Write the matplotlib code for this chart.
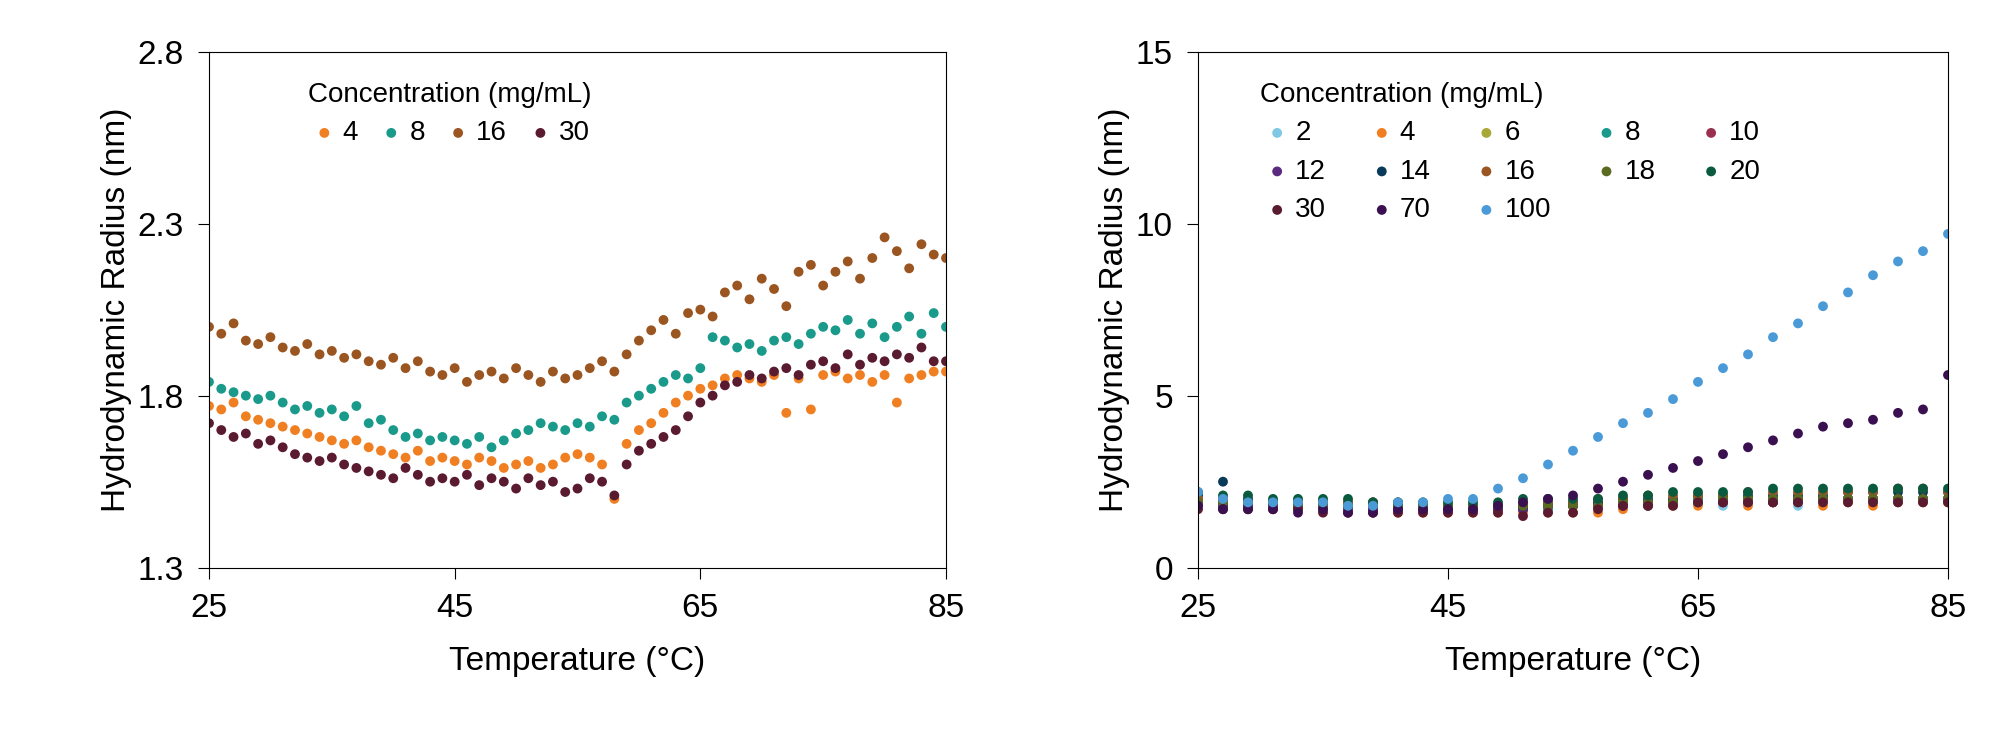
import numpy as np
import matplotlib.pyplot as plt

plt.rcParams['font.family'] = ['Arial', 'Liberation Sans', 'DejaVu Sans']

# ---------------- left panel data ----------------
temp_left = list(range(25, 86))
left_labels = ['4', '8', '16', '30']
left_colors = ['#F07F22', '#1A9A8A', '#9A5520', '#5A1A30']
r_4 = [1.77,1.76,1.78,1.74,1.73,1.72,1.71,1.70,1.69,1.68,
       1.67,1.66,1.67,1.65,1.64,1.63,1.62,1.64,1.61,1.62,
       1.61,1.60,1.62,1.61,1.59,1.60,1.61,1.59,1.60,1.62,
       1.63,1.62,1.60,1.50,1.66,1.70,1.72,1.75,1.78,1.80,
       1.82,1.83,1.85,1.86,1.85,1.84,1.86,1.75,1.85,1.76,
       1.86,1.87,1.85,1.86,1.84,1.86,1.78,1.85,1.86,1.87,1.87]
r_8 = [1.84,1.82,1.81,1.80,1.79,1.80,1.78,1.76,1.77,1.75,
       1.76,1.74,1.77,1.72,1.73,1.70,1.68,1.69,1.67,1.68,
       1.67,1.66,1.68,1.65,1.67,1.69,1.70,1.72,1.71,1.70,
       1.72,1.71,1.74,1.73,1.78,1.80,1.82,1.84,1.86,1.85,
       1.88,1.97,1.96,1.94,1.95,1.93,1.96,1.97,1.95,1.98,
       2.00,1.99,2.02,1.98,2.01,1.97,2.00,2.03,1.98,2.04,2.00]
r_16 = [2.00,1.98,2.01,1.96,1.95,1.97,1.94,1.93,1.95,1.92,
        1.93,1.91,1.92,1.90,1.89,1.91,1.88,1.90,1.87,1.86,
        1.88,1.84,1.86,1.87,1.85,1.88,1.86,1.84,1.87,1.85,
        1.86,1.88,1.90,1.87,1.92,1.96,1.99,2.02,1.98,2.04,
        2.05,2.03,2.10,2.12,2.08,2.14,2.11,2.06,2.16,2.18,
        2.12,2.16,2.19,2.14,2.20,2.26,2.22,2.17,2.24,2.21,2.20]
r_30 = [1.72,1.70,1.68,1.69,1.66,1.67,1.65,1.63,1.62,1.61,
        1.62,1.60,1.59,1.58,1.57,1.56,1.59,1.57,1.55,1.56,
        1.55,1.57,1.54,1.56,1.55,1.53,1.56,1.54,1.55,1.52,
        1.53,1.56,1.55,1.51,1.60,1.64,1.66,1.68,1.70,1.74,
        1.78,1.80,1.83,1.84,1.86,1.85,1.87,1.88,1.86,1.89,
        1.90,1.88,1.92,1.89,1.91,1.90,1.92,1.91,1.94,1.90,1.90]
left_series = [r_4, r_8, r_16, r_30]

# ---------------- right panel data ----------------
temp_right = list(range(25, 86, 2))
right_labels = ['2', '4', '6', '8', '10', '12', '14', '16', '18', '20', '30', '70', '100']
right_colors = ['#7EC8E3', '#F07F22', '#A8A838', '#1A9A8A', '#9A3050', '#5A2A80',
                '#0A3A5A', '#9A5520', '#5A6A20', '#0A5A40', '#5A1A30', '#3A1050', '#4A9AD8']
s2 = [1.9,1.8,1.9,1.8,1.8,1.7,1.8,1.7,1.7,1.7,1.7,1.7,1.8,1.7,1.7,1.8,1.8,1.8,1.8,1.8,1.9,1.8,1.9,1.9,1.8,1.9,1.9,1.9,1.9,1.9,1.9]
s4 = [1.8,1.8,1.7,1.7,1.7,1.7,1.6,1.6,1.6,1.6,1.6,1.6,1.6,1.6,1.6,1.6,1.6,1.7,1.8,1.8,1.8,1.9,1.8,1.9,1.9,1.8,1.9,1.8,1.9,1.9,1.9]
s6 = [2.0,1.9,1.9,1.9,1.8,1.8,1.8,1.8,1.8,1.8,1.7,1.7,1.8,1.8,1.8,1.8,1.9,1.9,1.9,1.9,2.0,2.0,2.0,2.0,2.0,2.0,2.0,2.0,2.0,2.0,1.9]
s8 = [1.8,1.8,1.8,1.8,1.7,1.7,1.7,1.7,1.7,1.7,1.7,1.7,1.7,1.7,1.7,1.8,1.8,1.9,1.9,1.9,2.0,2.0,2.0,2.0,2.0,2.0,2.0,2.0,2.0,2.0,2.0]
s10 = [1.9,1.9,1.8,1.8,1.8,1.8,1.8,1.7,1.7,1.7,1.7,1.7,1.7,1.7,1.8,1.8,1.8,1.8,1.9,1.9,1.9,1.9,1.9,1.9,2.0,2.0,2.0,2.0,2.0,2.0,2.0]
s12 = [1.9,1.8,1.8,1.8,1.8,1.8,1.7,1.7,1.7,1.7,1.7,1.7,1.7,1.7,1.8,1.8,1.8,1.8,1.8,1.9,1.9,1.9,1.9,1.9,1.9,2.0,2.0,2.0,2.0,2.0,2.0]
s14 = [2.1,2.5,2.0,1.9,1.9,1.9,1.9,1.9,1.8,1.8,1.8,1.8,1.8,1.8,1.9,1.9,1.9,2.0,2.0,2.0,2.1,2.1,2.1,2.1,2.1,2.1,2.2,2.2,2.2,2.2,2.2]
s16 = [2.0,2.0,1.9,1.9,1.9,1.9,1.9,1.9,1.9,1.8,1.8,1.8,1.8,1.9,1.9,1.9,2.0,2.0,2.1,2.1,2.1,2.1,2.2,2.2,2.2,2.2,2.2,2.2,2.3,2.3,2.2]
s18 = [1.9,1.9,1.9,1.9,1.8,1.8,1.8,1.8,1.8,1.8,1.8,1.8,1.8,1.8,1.8,1.8,1.8,1.9,1.9,1.9,1.9,2.0,2.0,2.0,2.0,2.0,2.0,2.0,2.0,2.0,2.0]
s20 = [2.2,2.1,2.1,2.0,2.0,2.0,2.0,1.9,1.9,1.9,1.9,1.9,1.9,2.0,2.0,2.0,2.0,2.1,2.1,2.2,2.2,2.2,2.2,2.3,2.3,2.3,2.3,2.3,2.3,2.3,2.3]
s30 = [1.7,1.7,1.7,1.7,1.7,1.6,1.6,1.6,1.6,1.6,1.6,1.6,1.6,1.5,1.6,1.6,1.7,1.8,1.8,1.8,1.9,1.9,1.9,1.9,1.9,1.9,1.9,1.9,1.9,1.9,1.9]
s70 = [1.8,1.7,1.7,1.7,1.6,1.7,1.6,1.6,1.7,1.7,1.7,1.7,1.8,
       1.9,2.0,2.1,2.3,2.5,2.7,2.9,3.1,3.3,3.5,3.7,3.9,4.1,4.2,4.3,4.5,4.6,5.6]
s100 = [2.2,2.0,1.9,1.9,1.9,1.9,1.8,1.8,1.9,1.9,2.0,
        2.0,2.3,2.6,3.0,3.4,3.8,4.2,4.5,4.9,5.4,5.8,6.2,6.7,7.1,7.6,8.0,8.5,8.9,9.2,9.7]
right_series = [s2, s4, s6, s8, s10, s12, s14, s16, s18, s20, s30, s70, s100]

fig = plt.figure(figsize=(20, 7.47), dpi=100)
ax1 = fig.add_axes([0.1045, 0.24, 0.3685, 0.691])
ax2 = fig.add_axes([0.599, 0.24, 0.375, 0.691])

for vals, lab, col in zip(left_series, left_labels, left_colors):
    ax1.scatter(temp_left, vals, s=50, color=col, label=lab, edgecolors='none')
for vals, lab, col in zip(right_series, right_labels, right_colors):
    ax2.scatter(temp_right, vals, s=50, color=col, label=lab, edgecolors='none')

ax1.set_ylim(1.3, 2.8)
ax1.set_yticks([1.3, 1.8, 2.3, 2.8])
ax2.set_ylim(0, 15)
ax2.set_yticks([0, 5, 10, 15])

for ax in (ax1, ax2):
    ax.set_xlim(25, 85)
    ax.set_xticks([25, 45, 65, 85])
    ax.tick_params(labelsize=24, direction='out', length=8, pad=10)
    ax.set_xlabel('Temperature (°C)', fontsize=24, labelpad=16)
    ax.set_ylabel('Hydrodynamic Radius (nm)', fontsize=24)


def row_major_legend(ax, ncol, anchor, colspace):
    # matplotlib fills legends column by column; reorder so entries read row by row
    h, l = ax.get_legend_handles_labels()
    n = len(h)
    order = [i for c in range(ncol) for i in range(c, n, ncol)]
    leg = ax.legend([h[i] for i in order], [l[i] for i in order], ncol=ncol,
                    frameon=False, loc='upper left', bbox_to_anchor=anchor,
                    title='Concentration (mg/mL)', title_fontsize=20, fontsize=20,
                    handletextpad=0.05, columnspacing=colspace, labelspacing=0.45,
                    handlelength=1.2, alignment='left')
    return leg


row_major_legend(ax1, 4, (0.1, 0.99), 0.6)
row_major_legend(ax2, 5, (0.05, 0.99), 1.4)

fig.savefig('out.png')
